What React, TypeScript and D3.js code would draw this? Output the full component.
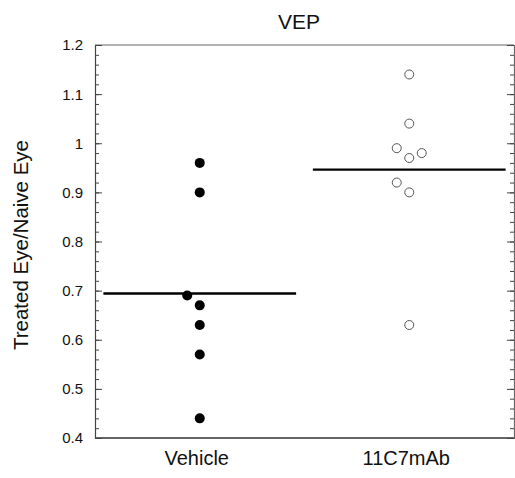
import * as d3 from 'd3';
import { useEffect, useRef } from 'react';

// Data
const groups = ['Vehicle', '11C7mAb'];
const vehicleValues = [0.96, 0.9, 0.69, 0.67, 0.63, 0.57, 0.44];
const vehicleSlots = [0, 0, -1, 0, 0, 0, 0];
const mabValues = [1.14, 1.04, 0.99, 0.98, 0.97, 0.92, 0.9, 0.63];
const mabSlots = [0, 0, -1, 1, 0, -1, 0, 0];
const yTicks = [0.4, 0.5, 0.6, 0.7, 0.8, 0.9, 1, 1.1, 1.2];

export default function App() {
    const svgCur = useRef<SVGSVGElement | null>(null);

    useEffect(() => {
        if (!svgCur.current) return;

        const width = 515;
        const height = 478;
        const margin = { top: 45, right: 1, bottom: 40, left: 95 };
        const font = 'Liberation Sans, Arial, Helvetica, sans-serif';

        const svg = d3.select(svgCur.current)
            .attr('width', width)
            .attr('height', height);
        svg.selectAll('*').remove();

        const x = d3.scalePoint<string>()
            .domain(groups)
            .range([margin.left, width - margin.right])
            .padding(0.5);
        const y = d3.scaleLinear()
            .domain([0.4, 1.2])
            .range([height - margin.bottom, margin.top]);

        const x0 = margin.left;
        const x1 = width - margin.right;
        const slotW = 12.5;

        // frame
        const frame = svg.append('g').attr('stroke', '#666').attr('fill', 'none');
        frame.append('line').attr('x1', x0).attr('x2', x1).attr('y1', y(1.2)).attr('y2', y(1.2)).attr('stroke-width', 1.2);
        frame.append('line').attr('x1', x0).attr('x2', x1).attr('y1', y(0.4)).attr('y2', y(0.4)).attr('stroke-width', 2);

        // left axis
        const minor = d3.range(0.4, 1.2001, 0.02);
        const leftAxis = d3.axisRight(y).tickValues(minor).tickSize(4).tickFormat(() => '');
        svg.append('g')
            .attr('transform', `translate(${x0},0)`)
            .call(leftAxis)
            .call(g => g.select('.domain').attr('stroke', '#444').attr('stroke-width', 1.2))
            .call(g => g.selectAll('line').attr('stroke', '#444'));
        svg.append('g')
            .attr('transform', `translate(${x0},0)`)
            .call(d3.axisRight(y).tickValues(yTicks).tickSize(7).tickFormat(() => ''))
            .call(g => g.select('.domain').remove())
            .call(g => g.selectAll('line').attr('stroke', '#444'));

        // right axis (ticks inward)
        svg.append('g')
            .attr('transform', `translate(${x1},0)`)
            .call(d3.axisLeft(y).tickValues(minor).tickSize(4).tickFormat(() => ''))
            .call(g => g.select('.domain').attr('stroke', '#666').attr('stroke-width', 1.2))
            .call(g => g.selectAll('line').attr('stroke', '#444'));
        svg.append('g')
            .attr('transform', `translate(${x1},0)`)
            .call(d3.axisLeft(y).tickValues(yTicks).tickSize(7).tickFormat(() => ''))
            .call(g => g.select('.domain').remove())
            .call(g => g.selectAll('line').attr('stroke', '#444'));

        // tick labels
        svg.append('g')
            .selectAll('text')
            .data(yTicks)
            .join('text')
            .attr('x', x0 - 12)
            .attr('y', d => y(d))
            .attr('dy', '0.36em')
            .attr('text-anchor', 'end')
            .attr('font-family', font)
            .attr('font-size', 15)
            .attr('fill', '#111')
            .text(d => d3.format('')(d));

        // category labels
        svg.append('g')
            .selectAll('text')
            .data(groups)
            .join('text')
            .attr('x', d => (x(d) as number) - 3)
            .attr('y', 465)
            .attr('text-anchor', 'middle')
            .attr('font-family', font)
            .attr('font-size', 20)
            .attr('fill', '#111')
            .text(d => d);

        // titles
        svg.append('text')
            .attr('x', 299)
            .attr('y', 29)
            .attr('text-anchor', 'middle')
            .attr('font-family', font)
            .attr('font-size', 21)
            .attr('fill', '#111')
            .text('VEP');
        svg.append('text')
            .attr('transform', 'translate(28,245) rotate(-90)')
            .attr('text-anchor', 'middle')
            .attr('font-family', font)
            .attr('font-size', 20.5)
            .attr('fill', '#111')
            .text('Treated Eye/Naive Eye');

        // mean lines
        const step = x.step();
        const series = [
            { name: groups[0], values: vehicleValues, slots: vehicleSlots, filled: true },
            { name: groups[1], values: mabValues, slots: mabSlots, filled: false },
        ];
        series.forEach(s => {
            const cx = x(s.name) as number;
            const mean = d3.mean(s.values) as number;
            svg.append('line')
                .attr('x1', cx - step * 0.46)
                .attr('x2', cx + step * 0.46)
                .attr('y1', y(mean))
                .attr('y2', y(mean))
                .attr('stroke', '#000')
                .attr('stroke-width', 2.4);
        });

        // points
        series.forEach(s => {
            const cx = x(s.name) as number;
            svg.append('g')
                .selectAll('circle')
                .data(s.values)
                .join('circle')
                .attr('cx', (d, i) => cx + s.slots[i] * slotW)
                .attr('cy', d => y(d))
                .attr('r', s.filled ? 5 : 4.5)
                .attr('fill', s.filled ? '#000' : '#fff')
                .attr('stroke', s.filled ? 'none' : '#555')
                .attr('stroke-width', 1);
        });
    }, []);

    return (
        <svg ref={svgCur} style={{ position: 'absolute', left: 0, top: 0 }}></svg>
    );
}
